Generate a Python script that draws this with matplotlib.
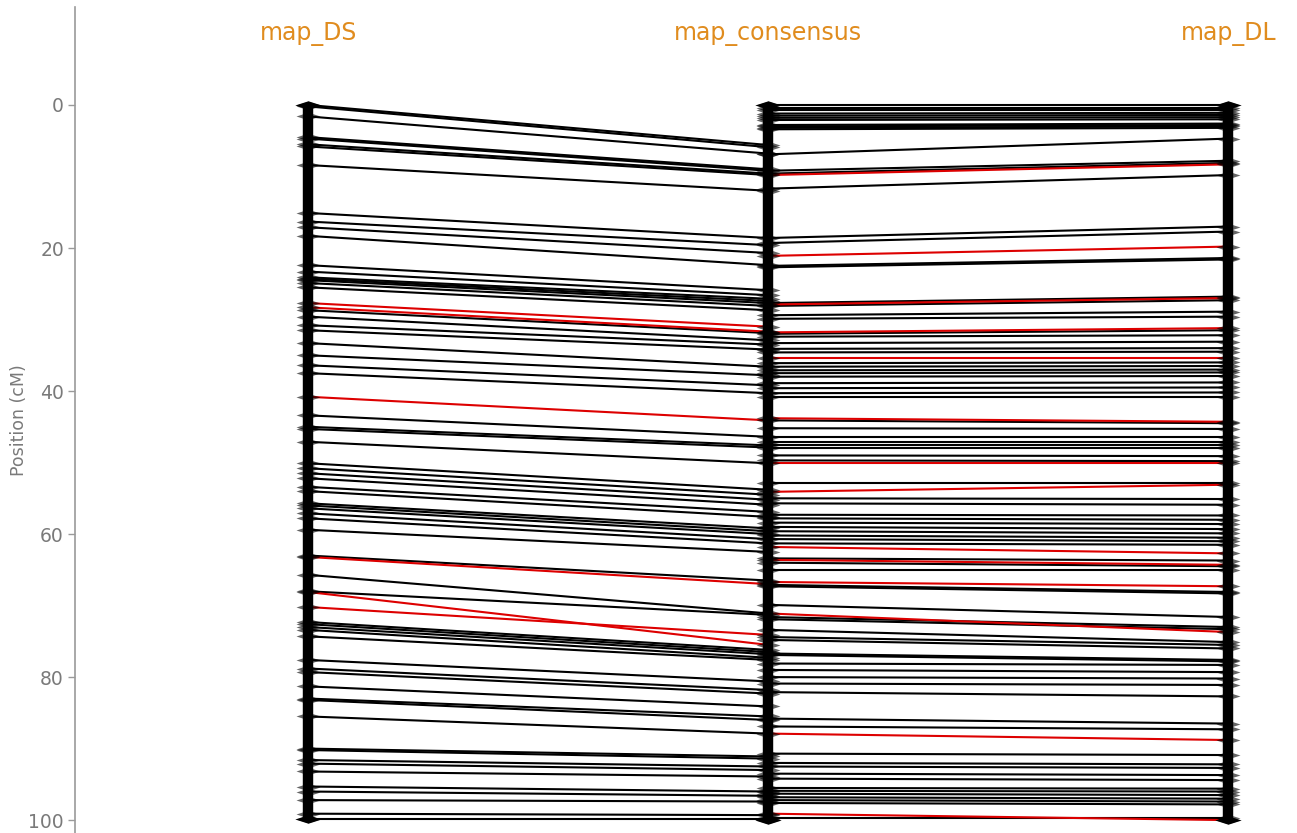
import numpy as np
import matplotlib
matplotlib.use("Agg")
import matplotlib.pyplot as plt

# map names (columns)
maps = ['map_DS', 'map_consensus', 'map_DL']

# links map_DS -> map_consensus : (DS position, consensus position, shown in red)
ds_pos = [0.0, 0.2, 1.6, 4.5, 4.7, 5.5, 5.8, 8.4, 15.1, 16.3, 17.1, 18.3, 22.4, 23.3,
          24.1, 24.3, 24.5, 24.9, 25.5, 27.7, 28.3, 28.7, 29.6, 30.8, 31.5, 33.3, 35.0,
          36.4, 37.5, 40.8, 43.4, 45.0, 45.3, 47.1, 50.1, 50.8, 51.5, 52.2, 53.4, 54.0,
          55.7, 56.0, 56.4, 57.1, 57.8, 59.4, 63.0, 63.2, 65.7, 68.0, 68.1, 70.2, 72.3,
          72.6, 73.0, 73.4, 74.3, 77.6, 78.8, 79.3, 81.3, 83.0, 83.2, 85.5, 90.0, 90.2,
          91.6, 92.1, 93.2, 95.3, 96.0, 97.2, 99.1, 99.8]
ds_cons = [5.6, 5.9, 6.8, 9.0, 9.2, 9.6, 9.8, 12.0, 18.6, 19.6, 20.7, 22.4, 25.9, 26.6,
           27.1, 27.4, 27.7, 28.1, 28.7, 31.0, 31.7, 31.9, 32.9, 33.5, 34.2, 36.6, 37.8,
           39.2, 40.3, 44.1, 46.4, 47.6, 47.9, 50.1, 53.8, 54.5, 55.2, 55.9, 56.9, 57.6,
           59.2, 59.6, 60.0, 60.7, 61.3, 62.5, 66.5, 67.0, 71.1, 71.3, 75.5, 74.1, 76.2,
           76.5, 76.8, 77.3, 77.6, 80.6, 81.8, 82.3, 84.1, 85.5, 86.0, 87.9, 91.1, 91.4,
           92.5, 93.0, 93.9, 96.0, 96.6, 97.4, 99.3, 99.8]
ds_red = [0, 0, 0, 0, 0, 0, 0, 0, 0, 0, 0, 0, 0, 0,
          0, 0, 0, 0, 0, 1, 1, 0, 0, 0, 0, 0, 0,
          0, 0, 1, 0, 0, 0, 0, 0, 0, 0, 0, 0, 0,
          0, 0, 0, 0, 0, 0, 0, 1, 0, 0, 1, 1, 0,
          0, 0, 0, 0, 0, 0, 0, 0, 0, 0, 0, 0, 0,
          0, 0, 0, 0, 0, 0, 0, 0]

# links map_consensus -> map_DL : (consensus position, DL position, shown in red)
dl_cons = [0.0, 0.4, 0.7, 1.2, 1.5, 1.8, 2.1, 2.8, 3.0, 3.2, 3.4, 6.9, 9.2, 9.6, 9.8,
           11.7, 18.6, 19.3, 21.1, 22.5, 22.7, 27.7, 27.9, 28.1, 29.4, 29.9, 31.8, 32.0,
           32.4, 33.3, 34.1, 34.6, 35.4, 36.1, 36.6, 37.1, 37.5, 38.0, 38.9, 39.6, 40.3,
           40.8, 43.8, 44.1, 45.2, 46.4, 47.1, 47.6, 47.9, 49.0, 49.7, 50.1, 52.9, 54.1,
           55.0, 55.7, 57.3, 57.8, 58.4, 59.0, 59.6, 60.2, 60.7, 61.3, 61.8, 63.4, 63.6,
           64.0, 65.0, 66.7, 67.1, 67.3, 69.9, 71.1, 71.6, 71.9, 73.4, 74.4, 74.8, 76.7,
           76.9, 78.1, 79.0, 80.0, 80.9, 82.1, 85.8, 86.9, 87.9, 90.7, 92.0, 92.5, 93.5,
           94.2, 95.5, 95.9, 96.3, 96.8, 97.2, 97.6, 99.1, 99.7]
dl_pos = [0.0, 0.4, 0.7, 1.1, 1.4, 1.7, 2.0, 2.6, 2.8, 3.0, 3.2, 4.7, 7.8, 8.1, 8.3,
          9.8, 17.0, 17.7, 19.8, 21.4, 21.6, 26.8, 27.0, 27.3, 28.9, 29.6, 31.2, 31.5,
          32.2, 33.1, 34.0, 34.5, 35.4, 36.0, 36.5, 37.0, 37.4, 37.9, 38.8, 39.5, 40.2,
          40.8, 44.3, 44.5, 45.3, 46.4, 47.1, 47.6, 47.9, 49.1, 49.8, 50.1, 52.9, 53.1,
          55.1, 55.9, 57.4, 58.0, 58.6, 59.3, 59.9, 60.5, 61.0, 61.5, 62.7, 63.7, 64.3,
          64.5, 65.0, 67.3, 68.1, 68.3, 71.6, 73.7, 73.0, 73.3, 75.1, 75.5, 76.0, 77.6,
          77.8, 78.3, 79.3, 80.2, 81.1, 82.7, 86.5, 87.3, 88.8, 90.9, 92.2, 92.7, 93.7,
          94.4, 95.6, 96.0, 96.5, 97.0, 97.4, 97.8, 100.0, 99.7]
dl_red = [0, 0, 0, 0, 0, 0, 0, 0, 0, 0, 0, 0, 0, 0, 1,
          0, 0, 0, 1, 0, 0, 0, 1, 0, 0, 0, 1, 0,
          0, 0, 0, 0, 1, 0, 0, 0, 0, 0, 0, 0, 0,
          0, 1, 0, 0, 0, 0, 0, 0, 0, 0, 1, 0, 1,
          0, 0, 0, 0, 0, 0, 0, 0, 0, 0, 1, 0, 1,
          0, 0, 1, 0, 0, 0, 1, 0, 0, 0, 0, 0, 0,
          0, 0, 0, 0, 0, 0, 0, 0, 1, 0, 0, 0, 0,
          0, 0, 0, 0, 0, 0, 0, 1, 0]

yticks = [0, 20, 40, 60, 80, 100]

RED = '#dd0000'
ORANGE = '#e08c1e'
GREY = '#7a7a7a'

fig = plt.figure(figsize=(12.97, 8.33), dpi=100)
ax = fig.add_axes([75 / 1297, 0, 1 - 75 / 1297, 1 - 7 / 833])
ax.set_xlim(-0.507, 2.149)
ax.set_ylim(101.8, -13.7)

# black links first, red on top
for red_flag in (0, 1):
    for a, b, r in zip(ds_pos, ds_cons, ds_red):
        if r == red_flag:
            ax.plot([0, 1], [a, b], color=RED if r else 'black', lw=1.5, zorder=2 + r)
    for a, b, r in zip(dl_cons, dl_pos, dl_red):
        if r == red_flag:
            ax.plot([1, 2], [a, b], color=RED if r else 'black', lw=1.5, zorder=2 + r)

# map axes with marker diamonds
diamond = [(-1, 0), (0, 0.32), (1, 0), (0, -0.32), (-1, 0)]
cons_all = sorted(set(ds_cons + dl_cons + [100.0]))
for i, pos in enumerate([ds_pos, cons_all, dl_pos]):
    ax.plot([i, i], [min(pos), max(pos)], color='black', lw=7.5, zorder=4,
            solid_capstyle='butt')
    ax.scatter([i] * len(pos), pos, marker=diamond, s=300, color='black',
               alpha=0.6, lw=0, zorder=5)
    ax.scatter([i, i], [min(pos), max(pos)], marker=diamond, s=360, color='black',
               lw=0, zorder=5)
    ax.text(i, -9.9, maps[i], color=ORANGE, fontsize=17, ha='center', va='center')

for s in ['top', 'right', 'bottom']:
    ax.spines[s].set_visible(False)
ax.spines['left'].set_color('#9a9a9a')
ax.spines['left'].set_linewidth(1.2)
ax.set_xticks([])
ax.set_yticks(yticks)
ax.tick_params(axis='y', colors='#9a9a9a', labelcolor=GREY, labelsize=13.5,
               length=5, width=1, pad=3)
ax.set_ylabel('Position (cM)', color=GREY, fontsize=12.5)
ax.yaxis.set_label_coords(-0.0385, 0.5)

fig.savefig('out.png', dpi=100)
